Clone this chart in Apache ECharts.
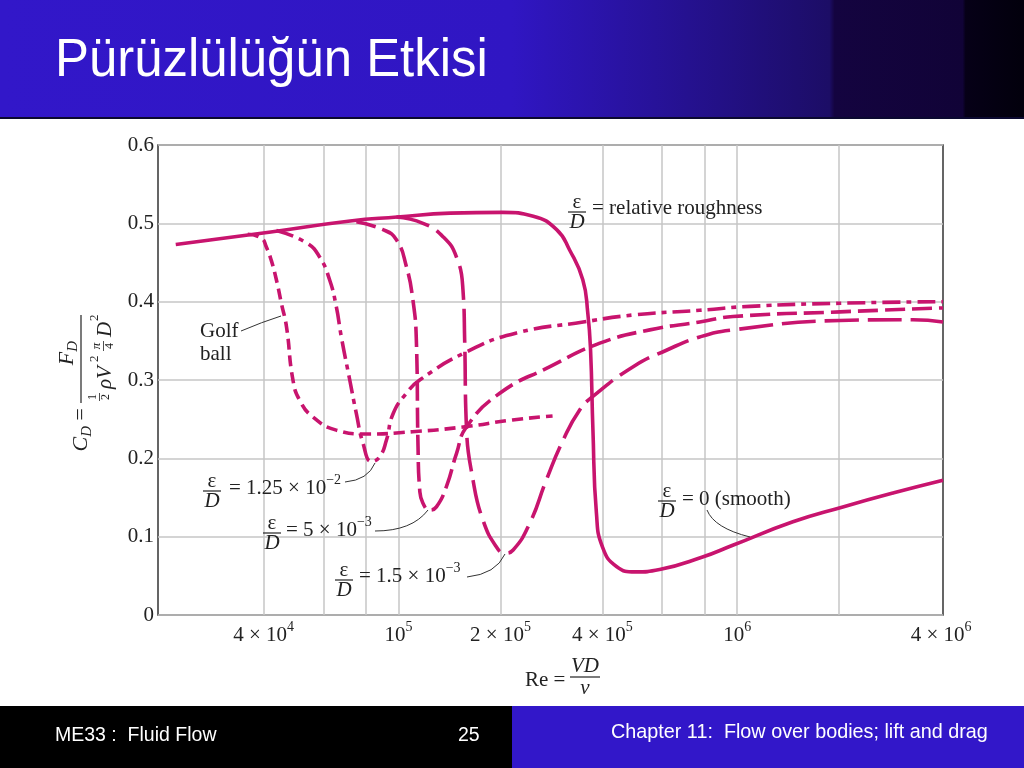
<!DOCTYPE html>
<html><head><meta charset="utf-8">
<script src="https://cdn.jsdelivr.net/npm/echarts@6/dist/echarts.min.js"></script>
<style>html,body{margin:0;padding:0;background:#fff}#c{width:1024px;height:768px}</style>
</head><body><div id="c"></div>
<script>
// ---- data ----
const xTickVals = [4e4, 1e5, 2e5, 4e5, 1e6, 4e6];
const xTickMant = ['4', '', '2', '4', '', '4'];
const xTickExp  = ['4', '5', '5', '5', '6', '6'];
const xGridVals = [4e4, 6e4, 8e4, 1e5, 2e5, 4e5, 6e5, 8e5, 1e6, 2e6];

const reSmooth = [2.2e4, 4.2e4, 7.2e4, 9.9e4, 1.42e5, 2.03e5, 2.5e5, 2.93e5, 3.2e5, 3.5e5, 3.62e5, 3.69e5, 3.75e5, 3.84e5, 4.0e5, 4.4e5, 5.0e5, 5.9e5, 7.9e5, 9.7e5, 1.46e6, 2.05e6, 2.9e6, 4.05e6];
const cdSmooth = [0.473, 0.489, 0.503, 0.508, 0.513, 0.514, 0.509, 0.492, 0.466, 0.428, 0.386, 0.338, 0.236, 0.130, 0.087, 0.062, 0.055, 0.058, 0.074, 0.089, 0.119, 0.138, 0.156, 0.172];

const reGolf = [3.59e4, 3.94e4, 4.07e4, 4.21e4, 4.36e4, 4.51e4, 4.67e4, 4.88e4, 5.11e4, 5.58e4, 6.55e4, 8.04e4, 1.10e5, 1.55e5, 2.17e5, 2.85e5];
const cdGolf = [0.486, 0.481, 0.470, 0.453, 0.428, 0.398, 0.368, 0.300, 0.274, 0.253, 0.236, 0.231, 0.234, 0.240, 0.249, 0.254];

const reR125 = [4.36e4, 5.35e4, 5.85e4, 6.26e4, 6.55e4, 6.78e4, 7.18e4, 7.51e4, 7.86e4, 8.32e4, 8.8e4, 9.21e4, 9.64e4, 1.055e5, 1.155e5, 1.59e5, 2.23e5, 3.51e5, 4.93e5, 7.75e5, 1.09e6, 2.01e6, 4.05e6];
const cdR125 = [0.491, 0.475, 0.457, 0.428, 0.394, 0.355, 0.300, 0.257, 0.219, 0.196, 0.202, 0.223, 0.257, 0.283, 0.300, 0.336, 0.360, 0.374, 0.383, 0.389, 0.394, 0.398, 0.400];

const reR5 = [7.51e4, 9.0e4, 9.86e4, 1.055e5, 1.103e5, 1.129e5, 1.142e5, 1.155e5, 1.18e5, 1.236e5, 1.294e5, 1.385e5, 1.483e5, 1.587e5, 1.99e5, 2.8e5, 3.93e5, 5.52e5, 7.75e5, 9.71e5, 2.01e6, 4.05e6];
const cdR5 = [0.502, 0.492, 0.479, 0.445, 0.402, 0.351, 0.215, 0.160, 0.143, 0.134, 0.138, 0.164, 0.206, 0.240, 0.283, 0.317, 0.347, 0.364, 0.374, 0.381, 0.387, 0.392];

const reR15 = [9.86e4, 1.181e5, 1.353e5, 1.483e5, 1.55e5, 1.568e5, 1.587e5, 1.66e5, 1.776e5, 1.945e5, 2.06e5, 2.18e5, 2.44e5, 2.73e5, 3.06e5, 3.43e5, 3.75e5, 4.93e5, 6.18e5, 7.75e5, 9.71e5, 2.01e6, 3.3e6, 4.05e6];
const cdR15 = [0.508, 0.500, 0.483, 0.457, 0.415, 0.351, 0.240, 0.172, 0.121, 0.087, 0.079, 0.083, 0.117, 0.172, 0.223, 0.262, 0.279, 0.317, 0.338, 0.355, 0.364, 0.376, 0.377, 0.374];

// ---- styling ----
const SERIF = "'Liberation Serif','Times New Roman',serif";
const SANS = "'Liberation Sans',Arial,sans-serif";
const MAG = '#c8146e';
const TXT = '#222';

const zip = (a, b) => a.map((v, i) => [v, b[i]]);

const chart = echarts.init(document.getElementById('c'), null, {renderer: 'canvas'});

function mkSeries(name, re, cd, dash) {
  return {
    name, type: 'line', data: zip(re, cd), symbol: 'none', showSymbol: false,
    smooth: 0.5, z: 3, animation: false, silent: true,
    lineStyle: {color: MAG, width: 3.6, type: dash, cap: 'butt', join: 'round'}
  };
}

const supRich = {
  n: {fontSize: 21, fontFamily: SERIF, fill: TXT, color: TXT, lineHeight: 22, verticalAlign: 'bottom'},
  s: {fontSize: 14, fontFamily: SERIF, fill: TXT, color: TXT, lineHeight: 14, padding: [0, 0, 12, 0], verticalAlign: 'bottom'}
};

function txt(x, y, text, opt) {
  opt = opt || {};
  return {type: 'text', x, y, z: 20, silent: true, style: Object.assign({
    text, fill: TXT, fontSize: 21, fontFamily: SERIF, textAlign: 'left', textVerticalAlign: 'middle', verticalAlign: 'middle'
  }, opt)};
}
function hline(x1, x2, y, w, c) {
  return {type: 'line', z: 20, silent: true, shape: {x1, y1: y, x2, y2: y}, style: {stroke: c || TXT, lineWidth: w || 1}};
}
function curve(x1, y1, cx, cy, x2, y2) {
  return {type: 'bezierCurve', z: 20, silent: true, shape: {x1, y1, x2, y2, cpx1: cx, cpy1: cy}, style: {stroke: '#333', lineWidth: 1, fill: null}};
}
function frac(cx, barY, half) {
  return [
    txt(cx, barY - 10, 'ε', {textAlign: 'center', fontSize: 21}),
    hline(cx - half, cx + half, barY, 1.2),
    txt(cx, barY + 10, 'D', {textAlign: 'center', fontStyle: 'italic', fontSize: 21})
  ];
}
function supText(x, y, main, sup) {
  return txt(x, y, '{n|' + main + '}{s|' + sup + '}', {rich: supRich});
}

const headerGrad = new echarts.graphic.LinearGradient(0, 0, 1, 0, [
  {offset: 0, color: '#3217c9'}, {offset: 0.5, color: '#3016c3'},
  {offset: 0.81, color: '#1c0d66'}, {offset: 0.815, color: '#140440'},
  {offset: 0.94, color: '#110337'}, {offset: 0.943, color: '#060017'},
  {offset: 1, color: '#02000c'}
]);

const yLabelGroup = {
  type: 'group', x: 81, y: 360, rotation: Math.PI / 2, z: 20, silent: true,
  children: [
    {type: 'line', shape: {x1: -43, y1: 0, x2: 45, y2: 0}, style: {stroke: TXT, lineWidth: 1.2}},
    {type: 'text', x: 7, y: -14, style: {text: '{i|F}{b|D}', textAlign: 'center', verticalAlign: 'middle', rich: {
      i: {fontSize: 22, fontStyle: 'italic', fontFamily: SERIF, fill: TXT, lineHeight: 22, verticalAlign: 'top'},
      b: {fontSize: 15, fontStyle: 'italic', fontFamily: SERIF, fill: TXT, lineHeight: 15, padding: [10, 0, 0, 0], verticalAlign: 'top'}
    }}},
    {type: 'text', x: -37, y: 12, style: {text: '1', fontSize: 12, fontFamily: SERIF, fill: TXT, textAlign: 'center', verticalAlign: 'middle'}},
    {type: 'line', shape: {x1: -41, y1: 18.5, x2: -33, y2: 18.5}, style: {stroke: TXT, lineWidth: 0.8}},
    {type: 'text', x: -37, y: 25, style: {text: '2', fontSize: 12, fontFamily: SERIF, fill: TXT, textAlign: 'center', verticalAlign: 'middle'}},
    {type: 'text', x: -29, y: 24, style: {text: 'ρV', fontSize: 21, fontStyle: 'italic', fontFamily: SERIF, fill: TXT, textAlign: 'left', verticalAlign: 'middle'}},
    {type: 'text', x: -2, y: 14, style: {text: '2', fontSize: 13, fontFamily: SERIF, fill: TXT, textAlign: 'left', verticalAlign: 'middle'}},
    {type: 'text', x: 14, y: 16, style: {text: 'π', fontSize: 13, fontStyle: 'italic', fontFamily: SERIF, fill: TXT, textAlign: 'center', verticalAlign: 'middle'}},
    {type: 'line', shape: {x1: 9, y1: 22.5, x2: 19, y2: 22.5}, style: {stroke: TXT, lineWidth: 0.8}},
    {type: 'text', x: 14, y: 29, style: {text: '4', fontSize: 12, fontFamily: SERIF, fill: TXT, textAlign: 'center', verticalAlign: 'middle'}},
    {type: 'text', x: 23, y: 24, style: {text: 'D', fontSize: 21, fontStyle: 'italic', fontFamily: SERIF, fill: TXT, textAlign: 'left', verticalAlign: 'middle'}},
    {type: 'text', x: 39, y: 14, style: {text: '2', fontSize: 13, fontFamily: SERIF, fill: TXT, textAlign: 'left', verticalAlign: 'middle'}},
    {type: 'text', x: -48, y: 0, style: {text: '{i|C}{b|D}{n| =}', textAlign: 'right', verticalAlign: 'middle', rich: {
      i: {fontSize: 22, fontStyle: 'italic', fontFamily: SERIF, fill: TXT, lineHeight: 22, verticalAlign: 'top'},
      b: {fontSize: 15, fontStyle: 'italic', fontFamily: SERIF, fill: TXT, lineHeight: 15, padding: [10, 0, 0, 0], verticalAlign: 'top'},
      n: {fontSize: 22, fontFamily: SERIF, fill: TXT, lineHeight: 22, verticalAlign: 'top'}
    }}}
  ]
};

const graphics = [
  // header
  {type: 'rect', z: 0, silent: true, shape: {x: 0, y: 0, width: 1024, height: 118}, style: {fill: headerGrad}},
  {type: 'rect', z: 0, silent: true, shape: {x: 0, y: 117, width: 1024, height: 2}, style: {fill: '#0b0930'}},
  {type: 'text', z: 1, silent: true, x: 55, y: 61, scaleX: 0.96, style: {text: 'Pürüzlülüğün Etkisi', fill: '#fff', fontSize: 53, fontFamily: SANS, textAlign: 'left', verticalAlign: 'middle'}},
  // footer
  {type: 'rect', z: 0, silent: true, shape: {x: 0, y: 706, width: 512, height: 62}, style: {fill: '#000'}},
  {type: 'rect', z: 0, silent: true, shape: {x: 512, y: 706, width: 512, height: 62}, style: {fill: '#3217c9'}},
  {type: 'text', z: 1, silent: true, x: 55, y: 736, style: {text: 'ME33 :  Fluid Flow', fill: '#fff', fontSize: 19.5, fontFamily: SANS, verticalAlign: 'middle'}},
  {type: 'text', z: 1, silent: true, x: 458, y: 736, style: {text: '25', fill: '#fff', fontSize: 19.5, fontFamily: SANS, verticalAlign: 'middle'}},
  {type: 'text', z: 1, silent: true, x: 611, y: 733, style: {text: 'Chapter 11:  Flow over bodies; lift and drag', fill: '#fff', fontSize: 19.8, fontFamily: SANS, verticalAlign: 'middle'}},
  // axis titles
  yLabelGroup,
  txt(525, 680, 'Re ='),
  txt(585, 666, 'VD', {textAlign: 'center', fontStyle: 'italic'}),
  hline(570, 600, 677, 1.2),
  txt(585, 688, 'ν', {textAlign: 'center', fontStyle: 'italic'}),
  // annotations
  ...frac(577, 212, 9), txt(592, 208, '= relative roughness'),
  txt(200, 331, 'Golf'), txt(200, 354, 'ball'), curve(241, 331, 262, 322, 281, 316),
  ...frac(212, 491, 9), supText(229, 488, '= 1.25 × 10', '−2'), curve(345, 482, 368, 480, 375, 463),
  ...frac(272, 533, 9), supText(286, 530, '= 5 × 10', '−3'), curve(375, 531, 412, 531, 428, 510),
  ...frac(344, 580, 9), supText(359, 576, '= 1.5 × 10', '−3'), curve(467, 577, 496, 574, 505, 554),
  ...frac(667, 501, 9), txt(682, 499, '= 0 (smooth)'), curve(707, 510, 714, 528, 750, 537)
];

function xLabel(v) {
  let idx = -1;
  xTickVals.forEach((t, i) => { if (Math.abs(v - t) / t < 1e-3) idx = i; });
  if (idx < 0) return '';
  const m = xTickMant[idx];
  return '{n|' + (m ? m + ' × 10' : '10') + '}{s|' + xTickExp[idx] + '}';
}

const option = {
  animation: false,
  backgroundColor: '#fff',
  grid: {left: 158, right: 81, top: 145, bottom: 153, show: true, borderColor: '#333', borderWidth: 1.5, backgroundColor: 'transparent'},
  xAxis: {
    type: 'log', logBase: 10, min: 1.95e4, max: 4.05e6,
    axisLine: {show: false}, axisTick: {show: false}, splitLine: {show: false}, minorSplitLine: {show: false},
    axisLabel: {customValues: xTickVals, formatter: xLabel, margin: 9, rich: supRich, color: TXT, fontFamily: SERIF, showMinLabel: true, showMaxLabel: true, hideOverlap: false}
  },
  yAxis: {
    type: 'value', min: 0, max: 0.6, interval: 0.1,
    axisLine: {show: false}, axisTick: {show: false},
    splitLine: {show: true, lineStyle: {color: '#c6c6c6', width: 1.5}},
    axisLabel: {formatter: v => (v === 0 ? '0' : v.toFixed(1)), fontSize: 21, fontFamily: SERIF, color: TXT, margin: 4}
  },
  series: [
    {
      name: 'grid', type: 'line', data: [], silent: true, z: 1,
      markLine: {
        silent: true, z: 1, symbol: ['none', 'none'], animation: false,
        label: {show: false}, emphasis: {disabled: true},
        lineStyle: {color: '#c6c6c6', width: 1.5, type: 'solid'},
        data: xGridVals.map(v => ({xAxis: v}))
      }
    },
    mkSeries('ε/D = 0 (smooth)', reSmooth, cdSmooth, 'solid'),
    mkSeries('Golf ball', reGolf, cdGolf, [11, 6]),
    mkSeries('ε/D = 1.25 × 10−2', reR125, cdR125, [18, 6, 5, 6]),
    mkSeries('ε/D = 5 × 10−3', reR5, cdR5, [20, 7]),
    mkSeries('ε/D = 1.5 × 10−3', reR15, cdR15, [34, 9])
  ],
  graphic: {elements: graphics}
};
chart.setOption(option);
</script></body></html>
